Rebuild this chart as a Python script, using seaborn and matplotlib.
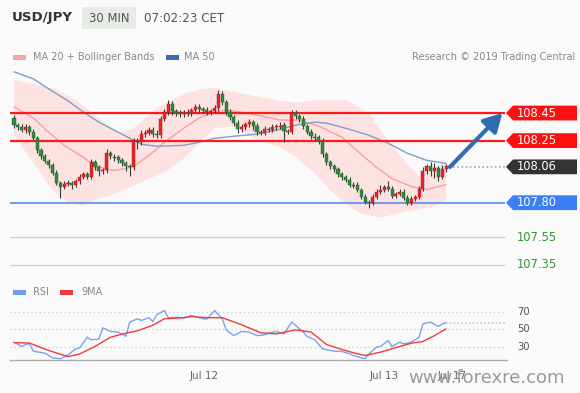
import numpy as np
import matplotlib
matplotlib.use("Agg")
import matplotlib.pyplot as plt
import seaborn as sns
from matplotlib.patches import Polygon, Rectangle
from matplotlib.transforms import blended_transform_factory

sns.set_theme(style="white")
plt.rcParams['font.family'] = ['DejaVu Sans']

# ---------------- data ----------------
first_open = 108.414
closes = [108.362, 108.348, 108.326, 108.348, 108.311, 108.268, 108.180, 108.136, 108.100, 108.070,
          108.019, 107.946, 107.917, 107.939, 107.946, 107.932, 107.954, 107.990, 108.005, 107.990,
          108.092, 108.056, 108.027, 108.034, 108.158, 108.136, 108.129, 108.107, 108.085, 108.063,
          108.056, 108.246, 108.238, 108.297, 108.304, 108.326, 108.297, 108.289, 108.406, 108.457,
          108.516, 108.465, 108.450, 108.443, 108.457, 108.450, 108.472, 108.494, 108.479, 108.472,
          108.457, 108.465, 108.487, 108.589, 108.530, 108.457, 108.421, 108.377, 108.333, 108.348,
          108.370, 108.384, 108.355, 108.311, 108.308, 108.333, 108.330, 108.348, 108.355, 108.362,
          108.319, 108.315, 108.450, 108.428, 108.406, 108.355, 108.311, 108.282, 108.275, 108.246,
          108.151, 108.092, 108.063, 108.041, 108.005, 107.983, 107.968, 107.932, 107.928, 107.895,
          107.844, 107.808, 107.800, 107.844, 107.881, 107.895, 107.917, 107.903, 107.851, 107.866,
          107.881, 107.837, 107.800, 107.830, 107.844, 107.903, 108.027, 108.063, 108.027, 108.049,
          107.990, 108.041, 108.063]
upper_wick = [0.02, 0.015, 0.02, 0.02, 0.015, 0.02, 0.015, 0.02, 0.015, 0.02,
              0.02, 0.02, 0.015, 0.02, 0.02, 0.015, 0.02, 0.015, 0.02, 0.02,
              0.025, 0.02, 0.015, 0.02, 0.03, 0.02, 0.015, 0.02, 0.015, 0.02,
              0.015, 0.02, 0.02, 0.03, 0.02, 0.025, 0.02, 0.03, 0.02, 0.02,
              0.03, 0.02, 0.015, 0.02, 0.015, 0.02, 0.015, 0.02, 0.02, 0.015,
              0.02, 0.015, 0.02, 0.03, 0.02, 0.015, 0.02, 0.015, 0.02, 0.02,
              0.015, 0.02, 0.015, 0.02, 0.015, 0.02, 0.015, 0.02, 0.015, 0.02,
              0.02, 0.015, 0.025, 0.02, 0.015, 0.02, 0.015, 0.02, 0.02, 0.015,
              0.02, 0.015, 0.02, 0.015, 0.02, 0.02, 0.015, 0.02, 0.015, 0.02,
              0.015, 0.02, 0.015, 0.02, 0.02, 0.03, 0.015, 0.04, 0.02, 0.015,
              0.02, 0.015, 0.02, 0.02, 0.015, 0.02, 0.03, 0.02, 0.035, 0.04,
              0.02, 0.03, 0.015]
lower_wick = [0.02, 0.02, 0.015, 0.02, 0.02, 0.015, 0.02, 0.02, 0.015, 0.02,
              0.02, 0.02, 0.085, 0.02, 0.02, 0.03, 0.02, 0.02, 0.015, 0.02,
              0.02, 0.02, 0.03, 0.02, 0.02, 0.02, 0.03, 0.02, 0.02, 0.03,
              0.06, 0.02, 0.05, 0.02, 0.02, 0.015, 0.02, 0.02, 0.02, 0.015,
              0.02, 0.03, 0.02, 0.02, 0.02, 0.02, 0.02, 0.015, 0.02, 0.02,
              0.02, 0.02, 0.015, 0.02, 0.02, 0.02, 0.02, 0.02, 0.03, 0.02,
              0.02, 0.02, 0.03, 0.02, 0.02, 0.02, 0.02, 0.015, 0.02, 0.02,
              0.08, 0.02, 0.02, 0.02, 0.02, 0.02, 0.015, 0.02, 0.02, 0.02,
              0.02, 0.02, 0.02, 0.02, 0.02, 0.02, 0.015, 0.02, 0.02, 0.02,
              0.02, 0.02, 0.035, 0.02, 0.02, 0.02, 0.02, 0.02, 0.02, 0.02,
              0.02, 0.02, 0.02, 0.02, 0.02, 0.02, 0.02, 0.02, 0.03, 0.05,
              0.03, 0.02, 0.02]

ma50_idx = [0, 5, 9, 14, 18, 22, 27, 31, 33, 37, 44, 48, 52, 57, 63, 68, 73, 78, 81, 86, 92, 97, 102, 107, 112]
ma50_val = [108.749, 108.698, 108.625, 108.538, 108.457, 108.384, 108.311, 108.253, 108.224, 108.209,
            108.216, 108.238, 108.267, 108.282, 108.297, 108.326, 108.362, 108.384, 108.377, 108.340,
            108.289, 108.231, 108.158, 108.107, 108.085]

ma20_idx = [0, 5, 9, 13, 18, 20, 24, 26, 29, 31, 35, 39, 44, 48, 52, 55, 57, 63, 69, 74, 79, 85, 90, 94, 98, 103, 107, 110, 112]
ma20_val = [108.494, 108.414, 108.311, 108.216, 108.129, 108.085, 108.041, 108.034, 108.049, 108.063,
            108.143, 108.238, 108.340, 108.414, 108.457, 108.472, 108.465, 108.435, 108.399, 108.399,
            108.355, 108.275, 108.151, 108.056, 107.975, 107.917, 107.895, 107.917, 107.932]

bb_up_idx = [0, 5, 11, 16, 20, 24, 27, 31, 35, 37, 40, 44, 48, 52, 57, 61, 68, 73, 78, 86, 92, 97, 100, 103, 105, 109, 112]
bb_up_val = [108.691, 108.662, 108.618, 108.545, 108.457, 108.370, 108.304, 108.340, 108.435, 108.487,
             108.530, 108.589, 108.618, 108.633, 108.603, 108.581, 108.545, 108.523, 108.545, 108.545,
             108.450, 108.253, 108.143, 108.049, 107.997, 108.049, 108.107]
bb_lo_idx = [0, 5, 9, 14, 18, 22, 27, 31, 35, 39, 44, 48, 52, 57, 62, 69, 73, 78, 82, 86, 90, 95, 99, 103, 108, 112]
bb_lo_val = [108.289, 108.092, 107.924, 107.800, 107.778, 107.830, 107.873, 107.924, 107.975, 108.019,
             108.121, 108.238, 108.340, 108.355, 108.267, 108.202, 108.129, 108.012, 107.888, 107.793,
             107.720, 107.691, 107.720, 107.742, 107.764, 107.815]

levels_res = [108.45, 108.25]
level_now = 108.06
level_sup = 107.80
levels_minor = [107.55, 107.35]

rsi_idx = [0, 2, 3, 4, 5, 8, 10, 12, 14, 16, 17, 19, 20, 22, 23, 25, 27, 29, 30, 32, 33, 35, 36, 37, 39,
           40, 42, 44, 46, 49, 50, 52, 54, 55, 57, 59, 61, 63, 65, 66, 68, 70, 72, 73, 75, 76, 78, 80,
           83, 85, 87, 88, 91, 92, 94, 95, 97, 98, 100, 101, 103, 105, 106, 108, 110, 111, 112]
rsi_val = [35.5, 30.6, 32.9, 33.6, 25.2, 23, 17.6, 16.5, 21, 27.9, 29, 41.2, 38.2, 39, 51.9, 47.7, 47, 42.3,
           58.4, 62.2, 60.3, 63.4, 59, 67, 71.7, 63.4, 64, 63, 66, 62.2, 62, 71.7, 62.2, 49.6, 43, 47.7,
           47, 43, 44, 45.8, 47.7, 45, 58.4, 54.6, 47, 42, 38.2, 27.9, 25.2, 24.9, 22.2, 20.3, 16.5,
           22.2, 29.8, 30.6, 37.4, 30.6, 35.5, 33.6, 35.5, 41.2, 56.5, 58.4, 53.4, 56.5, 57.6]
ma9_idx = [0, 4, 9, 14, 17, 21, 25, 29, 32, 36, 39, 44, 46, 50, 54, 59, 64, 68, 73, 77, 81, 85, 89, 91, 95,
           100, 103, 106, 109, 112]
ma9_val = [35, 34.5, 26, 19, 22, 30.6, 41.2, 45.8, 48.5, 54.9, 62.3, 63.5, 64.8, 63.5, 63.5, 55.4, 46.2,
           45, 49.6, 47, 32.9, 27.1, 22.2, 20.3, 24.1, 30.6, 34.3, 36.3, 43, 50.8]
rsi_levels = [30, 50, 70]

tick_pos = [49.3, 95.9, 113.6]
tick_labels = ["Jul 12", "Jul 13", "Jul 17"]

# ---------------- figure ----------------
W, H = 580, 393
fig = plt.figure(figsize=(W / 100, H / 100), dpi=100, facecolor="#fafafa")

def fx(px):
    return px / W

def fy(py):
    return 1 - py / H

XL = (-1.04, 127.8)
ax = fig.add_axes([fx(10), fy(275), fx(507) - fx(10), fy(70) - fy(275)])
ax.set_facecolor("none")
ax.set_xlim(*XL)
ax.set_ylim(107.276, 108.762)
ax.axis("off")

# Bollinger band
poly_x = list(bb_up_idx) + list(bb_lo_idx[::-1])
poly_y = list(bb_up_val) + list(bb_lo_val[::-1])
ax.fill(poly_x, poly_y, color="#fde2e2", lw=0, zorder=1)

# levels
xr = 127.3
for lv in levels_res:
    ax.hlines(lv, XL[0], xr, color="#ff1a1a", lw=1.6, zorder=3)
ax.hlines(level_sup, XL[0], xr, color="#6f9df0", lw=1.5, zorder=3)
for lv in levels_minor:
    ax.hlines(lv, XL[0], xr, color="#bcdcbc", lw=1.0, zorder=3)

# moving averages
sns.lineplot(x=ma20_idx, y=ma20_val, ax=ax, color="#f4a0a0", lw=1.0, zorder=2)
sns.lineplot(x=ma50_idx, y=ma50_val, ax=ax, color="#7d9fc8", lw=1.0, zorder=2)

# candles
c = np.array(closes)
o = np.concatenate([[first_open], c[:-1]])
idx = np.arange(len(c))
hi = np.maximum(o, c) + np.array(upper_wick)
lo = np.minimum(o, c) - np.array(lower_wick)
up = c >= o
ax.vlines(idx, lo, hi, color="#3a3a3a", lw=0.8, zorder=4)
body_h = np.maximum(np.abs(c - o), 0.007)
body_b = np.minimum(o, c) - np.where(np.abs(c - o) < 0.007, 0.0035, 0)
ax.bar(idx[up], body_h[up], bottom=body_b[up], width=0.8, color="#e8262a", edgecolor="#b01515", lw=0.3, zorder=5)
ax.bar(idx[~up], body_h[~up], bottom=body_b[~up], width=0.8, color="#2e8a3c", edgecolor="#1d5e27", lw=0.3, zorder=5)

# current price dotted line and arrow
ax.hlines(level_now, len(c) - 0.2, xr, color="#8fadcc", lw=1.2, linestyles=(0, (1, 1.5)), zorder=3)
ax.annotate("", xy=(126.6, levels_res[0]), xytext=(len(c), 108.059),
            arrowprops=dict(arrowstyle="-|>,head_length=0.9,head_width=0.5", color="#2f6db3", lw=3,
                            shrinkA=0, shrinkB=0), annotation_clip=False, zorder=6)

# price tags
tr = blended_transform_factory(fig.transFigure, ax.transData)
hh = 7.4 / 138.0

def tag(price, label, color):
    pts = [[fx(506), price], [fx(513), price + hh], [fx(577), price + hh],
           [fx(577), price - hh], [fx(513), price - hh]]
    ax.add_patch(Polygon(pts, closed=True, transform=tr, facecolor=color, edgecolor="none", clip_on=False, zorder=7))
    ax.text(fx(517), price, label, transform=tr, color="white", va="center", ha="left", fontsize=8.3, zorder=8)

tag(levels_res[0], f"{levels_res[0]:.2f}", "#ff1010")
tag(levels_res[1], f"{levels_res[1]:.2f}", "#ff1010")
tag(level_now, f"{level_now:.2f}", "#333333")
tag(level_sup, f"{level_sup:.2f}", "#3b7ff2")
for lv in levels_minor:
    ax.text(fx(517), lv, f"{lv:.2f}", transform=tr, color="#2f9a2f", va="center", ha="left", fontsize=8.3)

# ---------------- RSI panel ----------------
ax2 = fig.add_axes([fx(10), fy(360), fx(507) - fx(10), fy(300) - fy(360)])
ax2.set_facecolor("none")
ax2.set_xlim(*XL)
ax2.set_ylim(15.14, 83.7)
for s in ["top", "right", "left"]:
    ax2.spines[s].set_visible(False)
ax2.spines["bottom"].set_color("#aaaaaa")
ax2.spines["bottom"].set_linewidth(1.0)
ax2.hlines(rsi_levels, XL[0], XL[1], color="#c9d3de", lw=1.0, linestyles=(0, (1, 2)), zorder=1)
sns.lineplot(x=rsi_idx, y=rsi_val, ax=ax2, color="#7aa3ec", lw=1.0, zorder=3)
sns.lineplot(x=ma9_idx, y=ma9_val, ax=ax2, color="#f23a3a", lw=1.0, zorder=4)
ax2.hlines(rsi_val[-1], rsi_idx[-1], XL[1], color="#a9c3e6", lw=1.1, linestyles=(0, (1, 1.5)), zorder=2)
ax2.set_yticks([])
ax2.set_xticks(tick_pos)
ax2.set_xticklabels(tick_labels, fontsize=7.5, color="#666666")
ax2.set_xticks([XL[0] + 0.05, XL[1] - 0.05], minor=True)
ax2.tick_params(axis="x", which="major", length=0, pad=8)
ax2.tick_params(axis="x", which="minor", length=4, color="#aaaaaa", width=1)
ax2.set_xlabel("")
ax2.set_ylabel("")
tr2 = blended_transform_factory(fig.transFigure, ax2.transData)
for lv in rsi_levels:
    ax2.text(fx(517), lv, str(lv), transform=tr2, color="#555555", va="center", ha="left", fontsize=7.2)

# ---------------- header & legends ----------------
fig.text(fx(12), fy(18), "USD/JPY", fontsize=9.6, fontweight="bold", color="#333333", va="center", ha="left")
fig.patches.append(Rectangle((fx(82), fy(29)), fx(136) - fx(82), fy(7) - fy(29), transform=fig.transFigure,
                             facecolor="#e6ebe6", edgecolor="none"))
fig.text(fx(109), fy(18), "30 MIN", fontsize=8.4, color="#555555", va="center", ha="center")
fig.text(fx(144), fy(18), "07:02:23 CET", fontsize=8.6, color="#555555", va="center", ha="left")

def legend_item(x_patch, y, color, label, x_text):
    fig.patches.append(Rectangle((fx(x_patch), fy(y + 2.5)), fx(13), fy(0) - fy(5), transform=fig.transFigure,
                                 facecolor=color, edgecolor="none"))
    fig.text(fx(x_text), fy(y), label, fontsize=7, color="#888888", va="center", ha="left")

legend_item(13, 57, "#f5a3a3", "MA 20 + Bollinger Bands", 33)
legend_item(166, 57, "#3a6bb0", "MA 50", 184)
fig.text(fx(575), fy(57), "Research \u00a9 2019 Trading Central", fontsize=7, color="#888888", va="center", ha="right")
legend_item(13, 292, "#6f9ceb", "RSI", 33)
legend_item(60, 292, "#f23a3a", "9MA", 81)

fig.text(fx(408), fy(378), "www.forexre.com", fontsize=13, color="#9a9a9a", va="center", ha="left", zorder=10)

fig.savefig("out.png", dpi=100, facecolor=fig.get_facecolor())
